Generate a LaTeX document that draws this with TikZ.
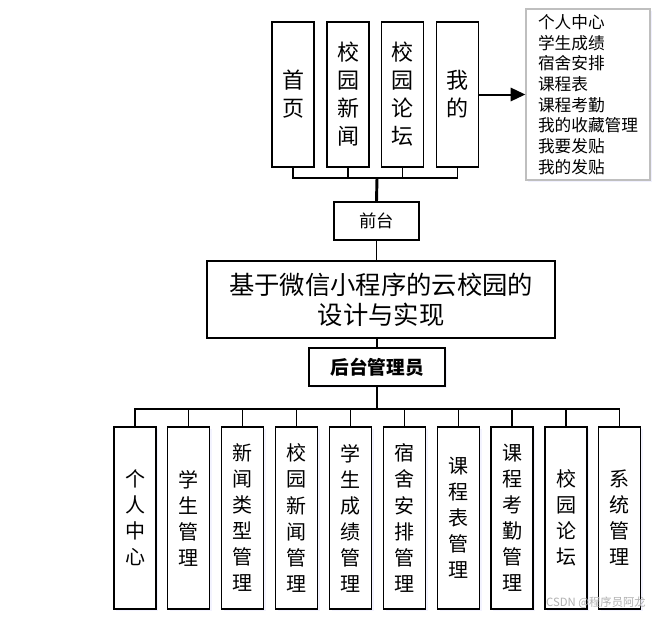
\documentclass[tikz,border=0pt]{standalone}
\usepackage{fontspec}
\setmainfont{Noto Sans CJK SC}
\usetikzlibrary{arrows.meta,shadows}

\begin{document}
\begin{tikzpicture}[
		x=0.75pt, y=-0.75pt,
		every node/.style={align=center, inner sep=0pt},
		box/.style={rectangle, draw, line width=1.2pt, fill=white},
		topbox/.style={box, minimum width=31.5pt, minimum height=108.75pt, font=\fontsize{16.5}{21}\selectfont},
		subbox/.style={box, minimum width=31.5pt, minimum height=136.5pt, font=\fontsize{15}{19.5}\selectfont,
			drop shadow={shadow xshift=1.5pt, shadow yshift=-1.5pt, opacity=0.12, fill=blue!40}},
		bus/.style={line width=1.2pt},
		trunk/.style={line width=2.2pt},
		thin/.style={line width=0.8pt}
		]
		\useasboundingbox (0,0) rectangle (659,617);
		
		% Front end: top row
		\node[topbox] (shouye) at (293,94.5) {首\\页};
		\node[topbox] (xiaoyuanxinwen) at (348,94.5) {校\\园\\新\\闻};
		\node[topbox] (xiaoyuanluntan) at (402.5,94.5) {校\\园\\论\\坛};
		\node[topbox] (wode) at (457.5,94.5) {我\\的};
		
		% List of my pages
		\node[rectangle, draw=black!25, line width=1pt, fill=white, minimum width=93pt, minimum height=128.25pt,
			font=\fontsize{12.5}{15.5}\selectfont, align=left,
			drop shadow={shadow xshift=1.5pt, shadow yshift=-1.5pt, opacity=0.15, fill=blue!40}] (wodelist) at (588,94.5)
			{个人中心\\学生成绩\\宿舍安排\\课程表\\课程考勤\\我的收藏管理\\我要发贴\\我的发贴};
		\draw[line width=1.5pt, -{Triangle[length=11pt, width=10pt]}] (wode.east) -- (wodelist.west);
		
		% Centre column
		\coordinate (topbus) at (377,178);
		\node[box, minimum width=63.75pt, minimum height=28.5pt, font=\fontsize{13}{15}\selectfont] (qiantai) at (376.5,221) {前台};
		\node[box, minimum width=261pt, minimum height=57.75pt, font=\fontsize{19}{22.5}\selectfont] (main) at (381,299.5)
			{基于微信小程序的云校园的\\设计与实现};
		\node[box, minimum width=102pt, minimum height=28.5pt, font=\fontsize{14}{16}\selectfont\bfseries,
			drop shadow={shadow xshift=1.5pt, shadow yshift=-1.5pt, opacity=0.12, fill=blue!40}] (houtai) at (377,367) {后台管理员};
		\coordinate (botbus) at (377,409);
		
		\draw[bus] (shouye.south) |- (topbus) -| (wode.south);
		\draw[bus] (xiaoyuanxinwen.south) -- (xiaoyuanxinwen.south |- topbus);
		\draw[bus] (xiaoyuanluntan.south) -- (xiaoyuanluntan.south |- topbus);
		\draw[trunk] (topbus) -- (qiantai.north);
		\draw[thin] (qiantai.south) -- (qiantai.south |- main.north);
		\draw[thin] (houtai.north |- main.south) -- (houtai.north);
		\draw[trunk] (houtai.south) -- (botbus);
		
		% Back end: bottom row
		\node[subbox] (gerenzhongxin) at (135,518) {个\\人\\中\\心};
		\node[subbox] (xuesheng) at (188.5,518) {学\\生\\管\\理};
		\node[subbox] (xinwenleixing) at (242.5,518) {新\\闻\\类\\型\\管\\理};
		\node[subbox] (xinwen) at (296.5,518) {校\\园\\新\\闻\\管\\理};
		\node[subbox] (chengji) at (350.5,518) {学\\生\\成\\绩\\管\\理};
		\node[subbox] (sushe) at (404.5,518) {宿\\舍\\安\\排\\管\\理};
		\node[subbox] (kechengbiao) at (458.5,518) {课\\程\\表\\管\\理};
		\node[subbox] (kaoqin) at (512,518) {课\\程\\考\\勤\\管\\理};
		\node[subbox] (luntan) at (566,518) {校\\园\\论\\坛};
		\node[subbox] (xitong) at (619.5,518) {系\\统\\管\\理};
		
		\draw[bus] (gerenzhongxin.north) |- (botbus) -| (xitong.north);
		\draw[bus] (xuesheng.north) -- (xuesheng.north |- botbus);
		\draw[bus] (xinwenleixing.north) -- (xinwenleixing.north |- botbus);
		\draw[bus] (xinwen.north) -- (xinwen.north |- botbus);
		\draw[bus] (chengji.north) -- (chengji.north |- botbus);
		\draw[bus] (sushe.north) -- (sushe.north |- botbus);
		\draw[bus] (kechengbiao.north) -- (kechengbiao.north |- botbus);
		\draw[bus] (kaoqin.north) -- (kaoqin.north |- botbus);
		\draw[bus] (luntan.north) -- (luntan.north |- botbus);
		
		% Watermark
		\node[text=black!30, font=\fontsize{8.5}{10}\selectfont] (watermark) at (596,603) {CSDN @程序员阿龙};
		
	\end{tikzpicture}
\end{document}
